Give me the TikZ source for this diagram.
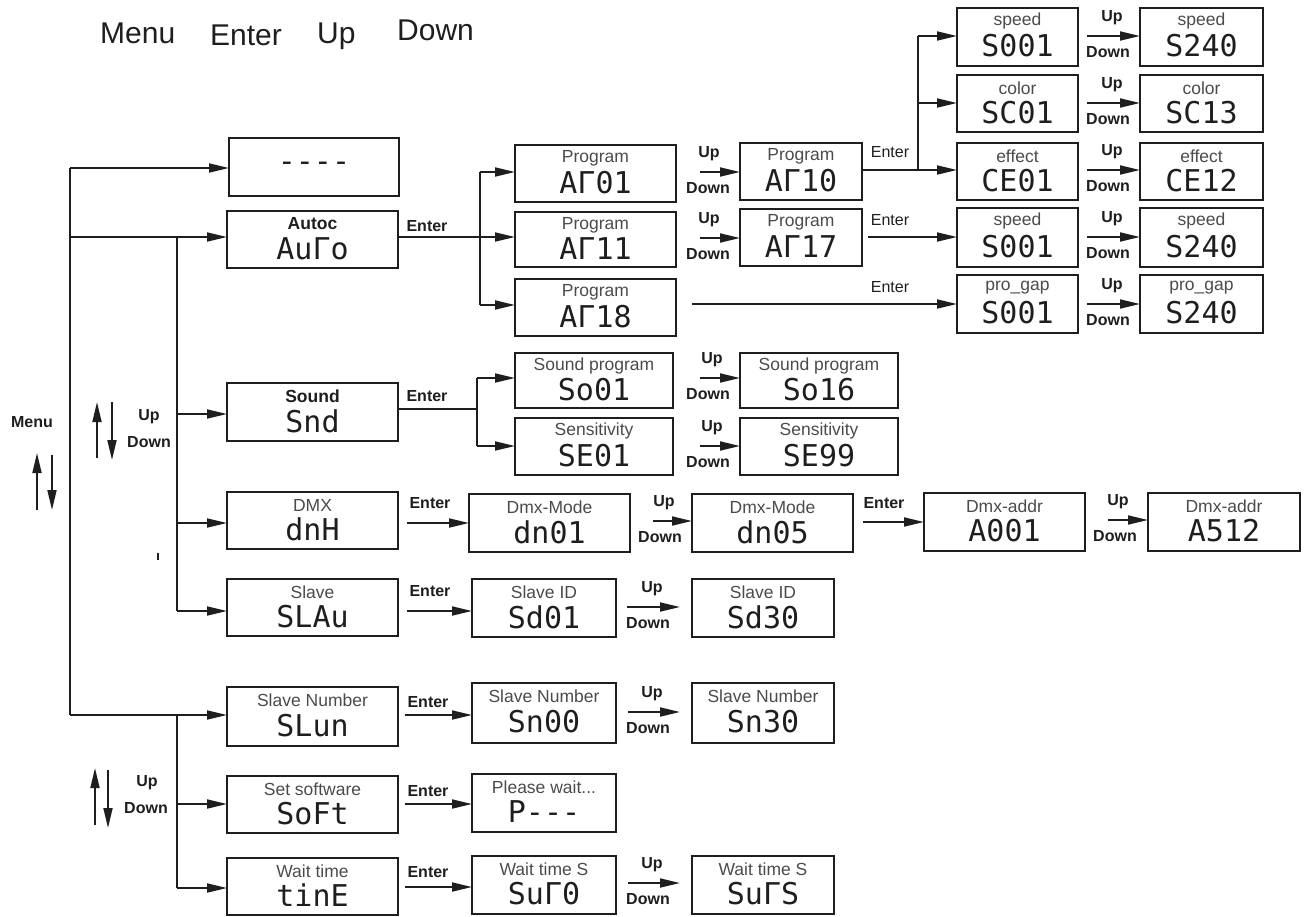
\documentclass[tikz,border=0pt]{standalone}
\usepackage{fontspec}
\setmainfont{Liberation Sans}
\newfontfamily\segfont{DejaVu Sans Mono}
\usetikzlibrary{arrows.meta}
\definecolor{labc}{RGB}{75,75,75}
\definecolor{ink}{RGB}{30,30,30}
\newcommand\segtxt[1]{{\segfont\fontsize{30}{32}\selectfont\textcolor{ink}{#1}}}
\tikzset{
  lcd/.style={draw=ink, line width=2.8pt, inner sep=0pt, outer sep=0pt},
  lcdlab/.style={font=\fontsize{17.5}{19}\selectfont, text=labc, inner sep=0pt},
  lcdseg/.style={inner sep=0pt},
  arr/.style={draw=ink, line width=1.8pt, -{Triangle[length=20pt,width=9pt]}},
  wireline/.style={draw=ink, line width=1.8pt},
  btnlbl/.style={font=\bfseries\fontsize{16}{18}\selectfont, text=ink, inner sep=0pt},
  entlbl/.style={font=\fontsize{16}{18}\selectfont, text=ink, inner sep=0pt},
  toplbl/.style={font=\fontsize{30}{36}\selectfont, text=ink, inner sep=0pt, anchor=base west},
}
\newcommand\lcdbox[7]{%
  \node[lcd, minimum width={#4-#2}, minimum height={#5-#3}, anchor=north west] (#1) at (#2,#3) {};
  \node[lcdlab] (#1l) at ([yshift=-13pt]#1.north) {#6};
  \node[lcdseg] (#1d) at ([yshift=-9pt]#1.center) {\segtxt{#7}};}
\newcommand\updown[6]{%
  \coordinate (#1s) at (#2,#3);
  \draw[arr] (#1s) -- (#4);
  \node[btnlbl] (#1u) at (#5,#3-18) {Up};
  \node[btnlbl] (#1d) at (#6,#3+16) {Down};}
\begin{document}
\begin{tikzpicture}[x=1pt,y=-1pt]
\useasboundingbox (0,0) rectangle (1304,916);
% legend
\node[toplbl] (tMenu) at (100,43) {Menu};
\node[toplbl] (tEnter) at (210,45) {Enter};
\node[toplbl] (tUp) at (317,43) {Up};
\node[toplbl] (tDown) at (397,40) {Down};

% left column
\node[lcd, minimum width=170, minimum height=58, anchor=north west] (dash) at (229,138) {};
\node[lcdseg] (dashd) at (dash.center) {\segtxt{----}};
\lcdbox{auto}{227}{211}{398}{268}{\textcolor{ink}{\textbf{Autoc}}}{AuΓo}
\lcdbox{snd}{227}{383}{398}{441}{\textcolor{ink}{\textbf{Sound}}}{Snd}
\lcdbox{dmx}{227}{492}{398}{549}{DMX}{dnH}
\lcdbox{slv}{227}{579}{398}{636}{Slave}{SLAu}
\lcdbox{sln}{227}{687}{398}{746}{Slave Number}{SLun}
\lcdbox{soft}{227}{776}{398}{833}{Set software}{SoFt}
\lcdbox{time}{227}{858}{398}{915}{Wait time}{tinE}

% program boxes
\lcdbox{p1}{515}{145}{676}{202}{Program}{AΓ01}
\lcdbox{p2}{515}{212}{676}{267}{Program}{AΓ11}
\lcdbox{p3}{515}{279}{676}{336}{Program}{AΓ18}
\lcdbox{q1}{740}{143}{862}{200}{Program}{AΓ10}
\lcdbox{q2}{740}{209}{862}{266}{Program}{AΓ17}

% right boxes
\lcdbox{r1}{957}{8}{1078}{66}{speed}{S001}
\lcdbox{s1}{1140}{8}{1263}{66}{speed}{S240}
\lcdbox{r2}{957}{75}{1078}{132}{color}{SC01}
\lcdbox{s2}{1140}{75}{1263}{132}{color}{SC13}
\lcdbox{r3}{957}{143}{1078}{200}{effect}{CE01}
\lcdbox{s3}{1140}{143}{1263}{200}{effect}{CE12}
\lcdbox{r4}{957}{208}{1078}{267}{speed}{S001}
\lcdbox{s4}{1140}{208}{1263}{267}{speed}{S240}
\lcdbox{r5}{957}{275}{1078}{333}{pro\_gap}{S001}
\lcdbox{s5}{1140}{275}{1263}{333}{pro\_gap}{S240}

% sound
\lcdbox{sp1}{515}{353}{673}{408}{Sound program}{So01}
\lcdbox{sp2}{740}{353}{898}{408}{Sound program}{So16}
\lcdbox{se1}{515}{418}{673}{475}{Sensitivity}{SE01}
\lcdbox{se2}{740}{418}{898}{475}{Sensitivity}{SE99}

% dmx
\lcdbox{dm1}{469}{494}{630}{552}{Dmx-Mode}{dn01}
\lcdbox{dm2}{692}{494}{853}{552}{Dmx-Mode}{dn05}
\lcdbox{da1}{924}{493}{1085}{551}{Dmx-addr}{A001}
\lcdbox{da2}{1148}{493}{1300}{551}{Dmx-addr}{A512}

% slave
\lcdbox{sid1}{472}{579}{616}{637}{Slave ID}{Sd01}
\lcdbox{sid2}{692}{579}{834}{637}{Slave ID}{Sd30}
\lcdbox{sn1}{472}{683}{616}{743}{Slave Number}{Sn00}
\lcdbox{sn2}{692}{683}{834}{743}{Slave Number}{Sn30}
\lcdbox{pw}{472}{774}{616}{832}{Please wait...}{P---}
\lcdbox{wt1}{472}{856}{616}{914}{Wait time S}{SuΓ0}
\lcdbox{wt2}{692}{856}{834}{914}{Wait time S}{SuΓS}

% main trunk
\coordinate (a0) at (70,168);
\coordinate (a1) at (70,237);
\coordinate (a2) at (70,715);
\draw[wireline] (a0) -- (a2);
\draw[arr] (a0) -- (a0 -| dash.west);
\draw[arr] (a1) -- (a1 -| auto.west);
\draw[arr] (a2) -- (a2 -| sln.west);

\coordinate (b0) at (177,237);
\coordinate (b1) at (177,414);
\coordinate (b2) at (177,523);
\coordinate (b3) at (177,611);
\draw[wireline] (b0) -- (b3);
\draw[arr] (b1) -- (b1 -| snd.west);
\draw[arr] (b2) -- (b2 -| dmx.west);
\draw[arr] (b3) -- (b3 -| slv.west);

\coordinate (c0) at (177,715);
\coordinate (c1) at (177,804);
\coordinate (c2) at (177,888);
\draw[wireline] (c0) -- (c2);
\draw[arr] (c1) -- (c1 -| soft.west);
\draw[arr] (c2) -- (c2 -| time.west);

% menu arrows
\node[btnlbl] (lMenu) at (32,422) {Menu};
\coordinate (m1a) at (37,510); \coordinate (m1b) at (37,453);
\coordinate (m2a) at (52,455); \coordinate (m2b) at (52,510);
\draw[arr] (m1a) -- (m1b);
\draw[arr] (m2a) -- (m2b);

\coordinate (n1a) at (97,458); \coordinate (n1b) at (97,402);
\coordinate (n2a) at (112,402); \coordinate (n2b) at (112,460);
\draw[arr] (n1a) -- (n1b);
\draw[arr] (n2a) -- (n2b);
\node[btnlbl] (n1u) at (149,417) {Up};
\node[btnlbl] (n1d) at (149,442) {Down};

\coordinate (k1a) at (95,825); \coordinate (k1b) at (95,768);
\coordinate (k2a) at (108,770); \coordinate (k2b) at (108,828);
\draw[arr] (k1a) -- (k1b);
\draw[arr] (k2a) -- (k2b);
\node[btnlbl] (k1u) at (147,783) {Up};
\node[btnlbl] (k1d) at (146,808) {Down};

\coordinate (tick1) at (158,553); \coordinate (tick2) at (158,560);
\draw[line width=1.6pt, ink] (tick1) -- (tick2);

% auto branch
\coordinate (j1) at (480,237);
\coordinate (j1t) at (480,172);
\coordinate (j1b) at (480,305);
\draw[wireline] (j1 -| auto.east) -- (j1);
\draw[wireline] (j1t) -- (j1b);
\draw[arr] (j1t) -- (j1t -| p1.west);
\draw[arr] (j1) -- (j1 -| p2.west);
\draw[arr] (j1b) -- (j1b -| p3.west);
\node[btnlbl] (eAuto) at (427,226) {Enter};

\updown{ua}{700}{172}{uas -| q1.west}{709}{708}
\updown{ub}{700}{238}{ubs -| q2.west}{709}{708}

% q1 branch
\coordinate (j2) at (918,170);
\coordinate (j2t) at (918,36);
\coordinate (j2m) at (918,103);
\draw[wireline] (j2 -| q1.east) -- (j2);
\draw[wireline] (j2t) -- (j2);
\draw[arr] (j2t) -- (j2t -| r1.west);
\draw[arr] (j2m) -- (j2m -| r2.west);
\draw[arr] (j2) -- (j2 -| r3.west);
\node[entlbl] (eq1) at (890,152) {Enter};

\coordinate (j3) at (868,237);
\draw[arr] (j3) -- (j3 -| r4.west);
\node[entlbl] (eq2) at (890,220) {Enter};

\coordinate (j4) at (692,304);
\draw[arr] (j4) -- (j4 -| r5.west);
\node[entlbl] (ep3) at (890,287) {Enter};

\updown{uc}{1087}{36}{ucs -| s1.west}{1112}{1108}
\updown{ud}{1087}{103}{uds -| s2.west}{1112}{1108}
\updown{ue}{1087}{170}{ues -| s3.west}{1112}{1108}
\updown{uf}{1087}{237}{ufs -| s4.west}{1112}{1108}
\updown{ug}{1087}{304}{ugs -| s5.west}{1112}{1108}

% sound branch
\coordinate (j5) at (477,409);
\coordinate (j5t) at (477,378);
\coordinate (j5b) at (477,446);
\draw[wireline] (j5 -| snd.east) -- (j5);
\draw[wireline] (j5t) -- (j5b);
\draw[arr] (j5t) -- (j5t -| sp1.west);
\draw[arr] (j5b) -- (j5b -| se1.west);
\node[btnlbl] (eSnd) at (427,396) {Enter};
\updown{uh}{700}{378}{uhs -| sp2.west}{712}{708}
\updown{ui}{700}{446}{uis -| se2.west}{712}{708}

% dmx branch
\coordinate (e1) at (407,523);
\draw[arr] (e1) -- (e1 -| dm1.west);
\node[btnlbl] (eDmx) at (430,503) {Enter};
\updown{uj}{653}{521}{ujs -| dm2.west}{664}{660}
\coordinate (e2) at (863,522);
\draw[arr] (e2) -- (e2 -| da1.west);
\node[btnlbl] (eDmx2) at (884,503) {Enter};
\updown{uk}{1108}{520}{uks -| da2.west}{1118}{1115}

% slave branch
\coordinate (e3) at (407,611);
\draw[arr] (e3) -- (e3 -| sid1.west);
\node[btnlbl] (eSlv) at (430,591) {Enter};
\coordinate (g1) at (680,600);
\updown{ul}{627}{607}{uls -| g1}{652}{648}

\coordinate (e4) at (405,715);
\draw[arr] (e4) -- (e4 -| sn1.west);
\node[btnlbl] (eSln) at (428,702) {Enter};
\updown{um}{628}{712}{ums -| g1}{652}{648}

\coordinate (e5) at (405,804);
\draw[arr] (e5) -- (e5 -| pw.west);
\node[btnlbl] (eSoft) at (428,791) {Enter};

\coordinate (e6) at (405,887);
\draw[arr] (e6) -- (e6 -| wt1.west);
\node[btnlbl] (eTime) at (428,872) {Enter};
\updown{un}{628}{883}{uns -| g1}{652}{648}
\end{tikzpicture}
\end{document}
